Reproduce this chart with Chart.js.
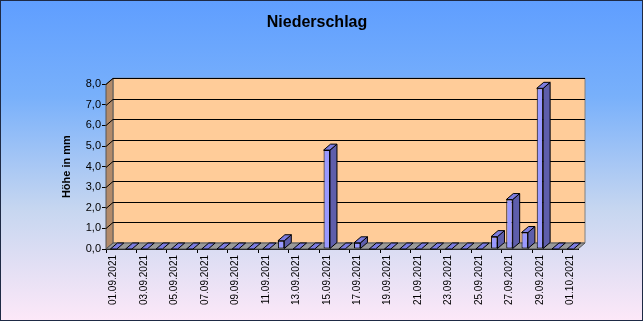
<!DOCTYPE html>
<html>
<head>
<meta charset="utf-8">
<script src="https://cdn.jsdelivr.net/npm/chart.js@4/dist/chart.umd.min.js"></script>
<style>
html,body{margin:0;padding:0;background:#fff;}
canvas{display:block;}
</style>
</head>
<body>
<canvas id="c" width="643" height="321"></canvas>
<script>
const categories = [
  '01.09.2021','02.09.2021','03.09.2021','04.09.2021','05.09.2021','06.09.2021','07.09.2021','08.09.2021',
  '09.09.2021','10.09.2021','11.09.2021','12.09.2021','13.09.2021','14.09.2021','15.09.2021','16.09.2021',
  '17.09.2021','18.09.2021','19.09.2021','20.09.2021','21.09.2021','22.09.2021','23.09.2021','24.09.2021',
  '25.09.2021','26.09.2021','27.09.2021','28.09.2021','29.09.2021','30.09.2021','01.10.2021'
];
const precipitation = [0,0,0,0,0,0,0,0,0,0,0,0.4,0,0,4.8,0,0.3,0,0,0,0,0,0,0,0,0.6,2.4,0.8,7.8,0,0];
const yMin = 0, yMax = 8, yStep = 1;
const chartTitle = 'Niederschlag';
const yTitle = 'Höhe in mm';

const DX = 7, DY = -6;

Chart.defaults.font.family = '"Liberation Sans", Arial, sans-serif';
Chart.defaults.color = '#000';

function poly(ctx, pts, fill, stroke) {
  ctx.beginPath();
  ctx.moveTo(pts[0][0], pts[0][1]);
  for (let i = 1; i < pts.length; i++) ctx.lineTo(pts[i][0], pts[i][1]);
  ctx.closePath();
  if (fill) { ctx.fillStyle = fill; ctx.fill(); }
  if (stroke) { ctx.strokeStyle = stroke; ctx.lineWidth = 1; ctx.stroke(); }
}

const bgPlugin = {
  id: 'bg',
  beforeDraw(chart) {
    const ctx = chart.ctx, w = chart.width, h = chart.height;
    const g = ctx.createLinearGradient(0, 0, 0, h);
    g.addColorStop(0, '#5f9eff');
    g.addColorStop(0.3, '#78b0fb');
    g.addColorStop(0.65, '#c6d6f0');
    g.addColorStop(1, '#fde8f8');
    ctx.save();
    ctx.fillStyle = g;
    ctx.fillRect(0, 0, w, h);
    ctx.restore();
  },
  afterDraw(chart) {
    const ctx = chart.ctx;
    ctx.save();
    ctx.strokeStyle = '#1e2a45';
    ctx.lineWidth = 1;
    ctx.strokeRect(0.5, 0.5, chart.width - 1, chart.height - 1);
    ctx.restore();
  }
};

const wallsPlugin = {
  id: 'walls',
  beforeDatasetsDraw(chart) {
    const ctx = chart.ctx, ca = chart.chartArea, ys = chart.scales.y;
    const L = ca.left, R = ca.right, T = ca.top, B = ca.bottom;
    ctx.save();
    poly(ctx, [[L+DX,T+DY],[R+DX,T+DY],[R+DX,B+DY],[L+DX,B+DY]], '#ffcc99', '#808080');
    poly(ctx, [[L,T],[L+DX,T+DY],[L+DX,B+DY],[L,B]], '#b38b6a', '#555');
    poly(ctx, [[L,B],[R,B],[R+DX,B+DY],[L+DX,B+DY]], '#9a9a9a', '#555');
    ctx.strokeStyle = '#000';
    ctx.lineWidth = 1;
    for (let v = yMin + yStep; v <= yMax; v += yStep) {
      const yv = Math.round(ys.getPixelForValue(v)) + 0.5;
      ctx.beginPath();
      ctx.moveTo(L, yv);
      ctx.lineTo(L+DX, yv+DY);
      ctx.lineTo(R+DX, yv+DY);
      ctx.stroke();
    }
    ctx.restore();
  },
  afterDatasetsDraw(chart) {
    const ctx = chart.ctx;
    const meta = chart.getDatasetMeta(0);
    ctx.save();
    meta.data.forEach(bar => {
      const p = bar.getProps(['x','y','base','width'], true);
      const l = p.x - p.width/2, r = p.x + p.width/2, t = p.y, b = p.base;
      if (b - t > 0.5) {
        poly(ctx, [[r,t],[r+DX,t+DY],[r+DX,b+DY],[r,b]], '#5e5eab', '#000');
      }
      poly(ctx, [[l,t],[l+DX,t+DY],[r+DX,t+DY],[r,t]], '#7c7ce0', '#000');
    });
    ctx.restore();
  }
};

new Chart(document.getElementById('c'), {
  type: 'bar',
  data: {
    labels: categories,
    datasets: [{
      data: precipitation,
      backgroundColor: '#9999ff',
      borderColor: '#000',
      borderWidth: 1,
      borderSkipped: false,
      categoryPercentage: 1,
      barPercentage: 0.42
    }]
  },
  options: {
    responsive: false,
    animation: false,
    devicePixelRatio: 1,
    layout: { padding: { left: 56, right: 65, top: 0, bottom: 0 } },
    plugins: {
      legend: { display: false },
      tooltip: { enabled: false },
      title: {
        display: true,
        text: chartTitle,
        color: '#000',
        font: { size: 16, weight: 'bold' },
        padding: { top: 13, bottom: 52 }
      }
    },
    scales: {
      x: {
        afterFit(s) { s.height = 72; },
        grid: {
          drawOnChartArea: false,
          drawTicks: true,
          tickLength: 4,
          color: c => (c.index % 2 === 0 ? '#000' : 'rgba(0,0,0,0)')
        },
        border: { display: true, color: '#000' },
        ticks: {
          autoSkip: false,
          maxRotation: 90,
          minRotation: 90,
          padding: 2,
          font: { size: 10 },
          color: '#000',
          callback: (v, i) => (i % 2 === 0 ? categories[i] : '')
        }
      },
      y: {
        min: yMin,
        max: yMax,
        afterFit(s) { s.width = 50; },
        title: {
          display: true,
          text: yTitle,
          color: '#000',
          font: { size: 11, weight: 'bold' }
        },
        grid: {
          drawOnChartArea: false,
          drawTicks: true,
          tickLength: 4,
          color: '#000'
        },
        border: { display: true, color: '#000' },
        ticks: {
          stepSize: yStep,
          padding: 1,
          font: { size: 11 },
          color: '#000',
          callback: v => v.toFixed(1).replace('.', ',')
        }
      }
    }
  },
  plugins: [bgPlugin, wallsPlugin]
});
</script>
</body>
</html>
